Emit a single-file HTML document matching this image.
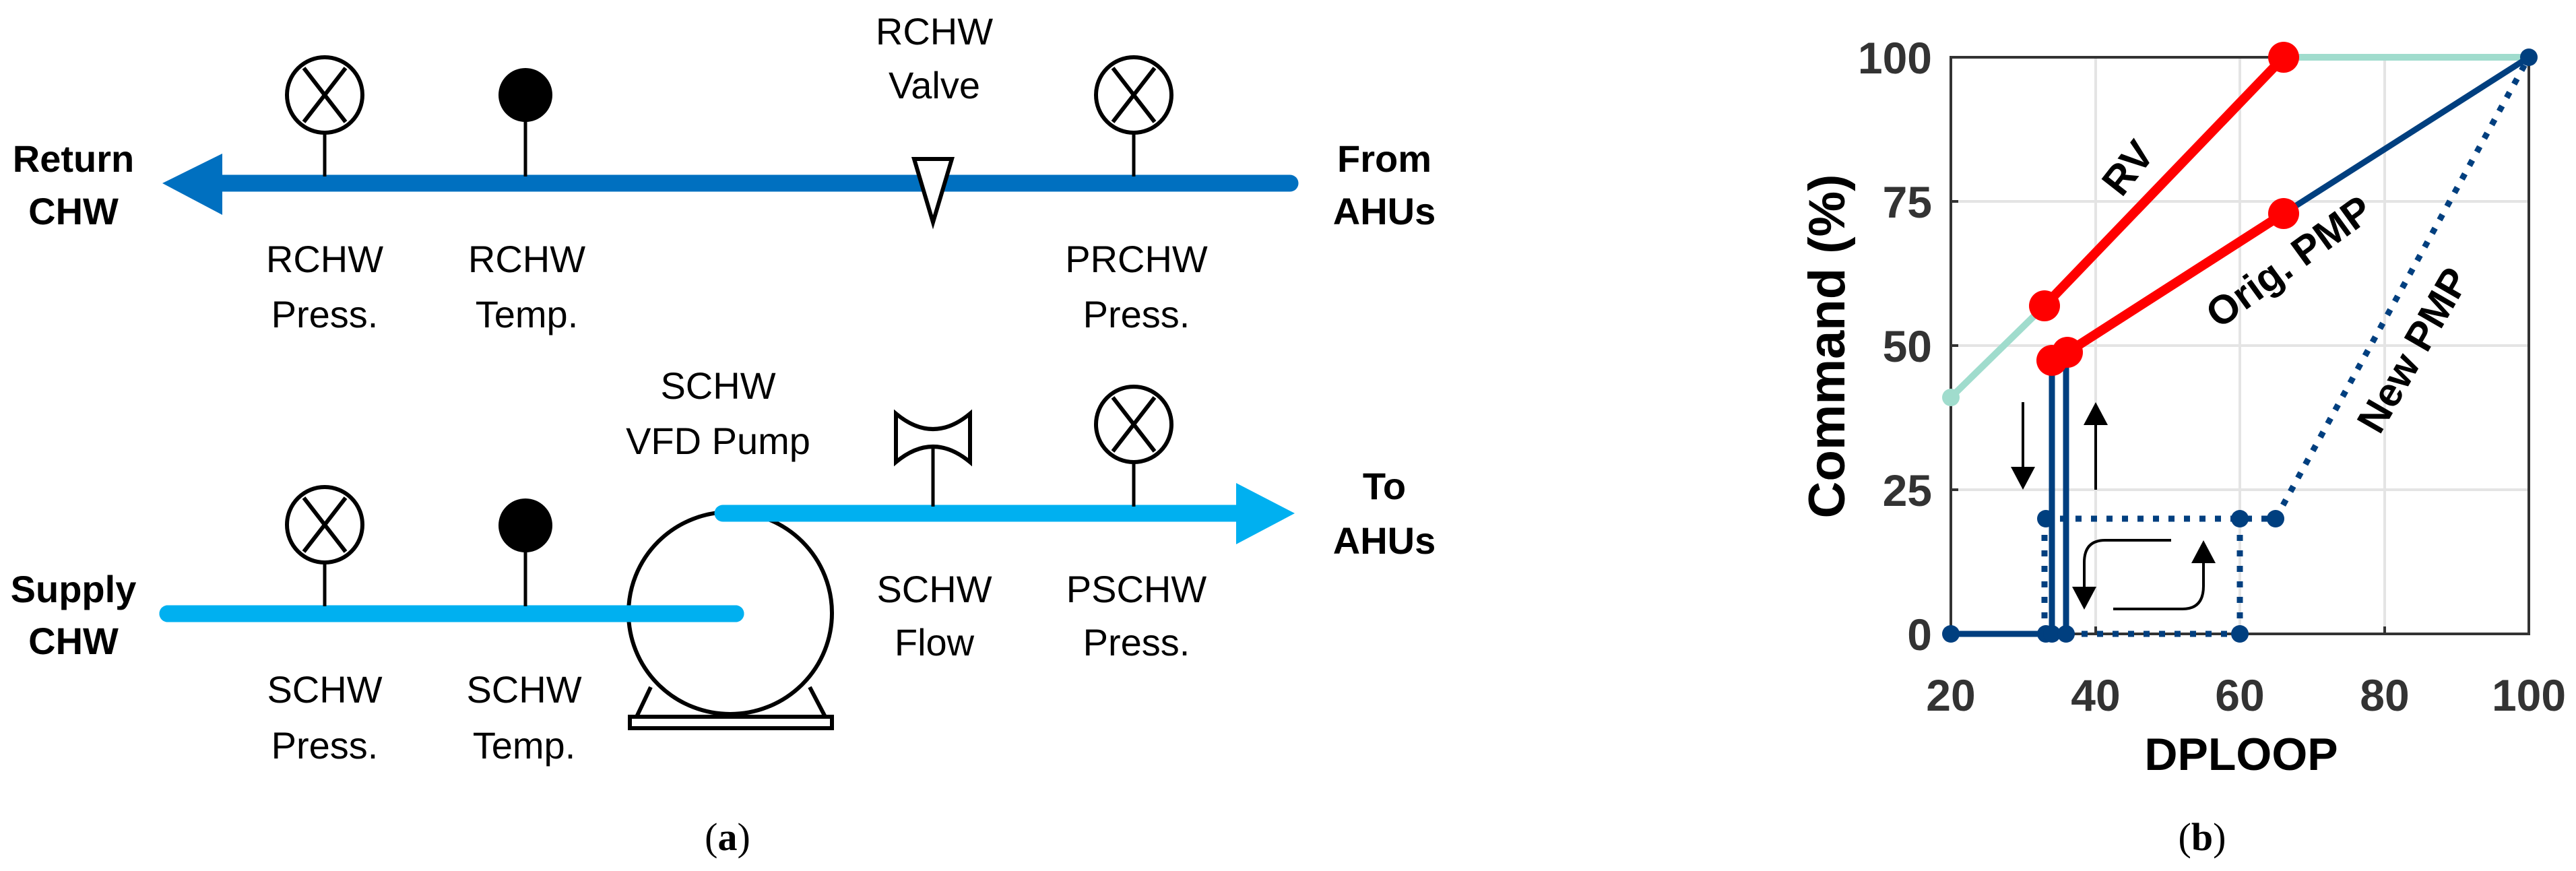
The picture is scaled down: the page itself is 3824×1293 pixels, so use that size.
<!DOCTYPE html>
<html><head><meta charset="utf-8"><style>html,body{margin:0;padding:0;background:#fff}svg{display:block}</style></head>
<body>
<svg width="3824" height="1293" viewBox="0 0 3824 1293" xmlns="http://www.w3.org/2000/svg">
<g font-family="Liberation Sans, sans-serif" font-size="56" fill="#000" text-anchor="middle">
<line x1="300" y1="272" x2="1915" y2="272" stroke="#0070c0" stroke-width="25" stroke-linecap="round"/>
<polygon points="241,272 330,228 330,319" fill="#0070c0"/>
<text x="109" y="255" font-weight="bold">Return</text>
<text x="109" y="333" font-weight="bold">CHW</text>
<text x="2055" y="255" font-weight="bold">From</text>
<text x="2055" y="333" font-weight="bold">AHUs</text>
<line x1="482" y1="196" x2="482" y2="262" stroke="#000" stroke-width="5"/>
<circle cx="482" cy="141" r="56" fill="#fff" stroke="#000" stroke-width="6"/>
<line x1="451" y1="101" x2="513" y2="181" stroke="#000" stroke-width="6"/>
<line x1="513" y1="101" x2="451" y2="181" stroke="#000" stroke-width="6"/>
<line x1="780" y1="170" x2="780" y2="262" stroke="#000" stroke-width="5"/>
<ellipse cx="780" cy="141" rx="40" ry="40" fill="#000"/>
<polygon points="1357,236 1413,236 1385,330" fill="#fff" stroke="#000" stroke-width="6"/>
<text x="1387" y="66">RCHW</text>
<text x="1387" y="146">Valve</text>
<line x1="1683" y1="196" x2="1683" y2="262" stroke="#000" stroke-width="5"/>
<circle cx="1683" cy="141" r="56" fill="#fff" stroke="#000" stroke-width="6"/>
<line x1="1652" y1="101" x2="1714" y2="181" stroke="#000" stroke-width="6"/>
<line x1="1714" y1="101" x2="1652" y2="181" stroke="#000" stroke-width="6"/>
<text x="482" y="404">RCHW</text><text x="482" y="486">Press.</text>
<text x="782" y="404">RCHW</text><text x="782" y="486">Temp.</text>
<text x="1687" y="404">PRCHW</text><text x="1687" y="486">Press.</text>

<line x1="249" y1="911" x2="1092" y2="911" stroke="#00b0f0" stroke-width="25" stroke-linecap="round"/>
<line x1="966" y1="1020" x2="945" y2="1064" stroke="#000" stroke-width="6"/>
<line x1="1202" y1="1020" x2="1225" y2="1064" stroke="#000" stroke-width="6"/>
<rect x="935" y="1064" width="300" height="17" fill="#fff" stroke="#000" stroke-width="6"/>
<ellipse cx="1084" cy="910" rx="151" ry="150" fill="none" stroke="#000" stroke-width="6"/>
<line x1="249" y1="911" x2="1092" y2="911" stroke="#00b0f0" stroke-width="25" stroke-linecap="round"/>
<line x1="1073" y1="762" x2="1845" y2="762" stroke="#00b0f0" stroke-width="25" stroke-linecap="round"/>
<polygon points="1922,762 1835,717 1835,808" fill="#00b0f0"/>
<text x="1066" y="592">SCHW</text>
<text x="1066" y="674">VFD Pump</text>
<line x1="482" y1="835" x2="482" y2="900" stroke="#000" stroke-width="5"/>
<circle cx="482" cy="779" r="56" fill="#fff" stroke="#000" stroke-width="6"/>
<line x1="451" y1="739" x2="513" y2="819" stroke="#000" stroke-width="6"/>
<line x1="513" y1="739" x2="451" y2="819" stroke="#000" stroke-width="6"/>
<line x1="780" y1="810" x2="780" y2="900" stroke="#000" stroke-width="5"/>
<ellipse cx="780" cy="780" rx="40" ry="40" fill="#000"/>
<line x1="1385" y1="660" x2="1385" y2="752" stroke="#000" stroke-width="5"/>
<path d="M1330,614 L1330,686 Q1385,640 1440,686 L1440,614 Q1385,660 1330,614 Z" fill="#fff" stroke="#000" stroke-width="6"/>
<line x1="1683" y1="685" x2="1683" y2="752" stroke="#000" stroke-width="5"/>
<circle cx="1683" cy="630" r="56" fill="#fff" stroke="#000" stroke-width="6"/>
<line x1="1652" y1="590" x2="1714" y2="670" stroke="#000" stroke-width="6"/>
<line x1="1714" y1="590" x2="1652" y2="670" stroke="#000" stroke-width="6"/>
<text x="2055" y="741" font-weight="bold">To</text>
<text x="2055" y="822" font-weight="bold">AHUs</text>
<text x="109" y="894" font-weight="bold">Supply</text>
<text x="109" y="971" font-weight="bold">CHW</text>
<text x="1387" y="894">SCHW</text><text x="1387" y="973">Flow</text>
<text x="1687" y="894">PSCHW</text><text x="1687" y="973">Press.</text>
<text x="482" y="1043">SCHW</text><text x="482" y="1126">Press.</text>
<text x="778" y="1043">SCHW</text><text x="778" y="1126">Temp.</text>
<text x="1080" y="1262" font-family="Liberation Serif, serif" font-size="58">(<tspan font-weight="bold">a</tspan>)</text>
</g>

<g font-family="Liberation Sans, sans-serif" font-weight="bold">
<g stroke="#e4e4e4" stroke-width="4">
<line x1="3111" y1="85" x2="3111" y2="941"/><line x1="3325" y1="85" x2="3325" y2="941"/><line x1="3540" y1="85" x2="3540" y2="941"/>
<line x1="2896" y1="727" x2="3754" y2="727"/><line x1="2896" y1="513" x2="3754" y2="513"/><line x1="2896" y1="299" x2="3754" y2="299"/>
</g>
<rect x="2896" y="85" width="858" height="856" fill="none" stroke="#333" stroke-width="4"/>
<g stroke="#333" stroke-width="4">
<line x1="3111" y1="941" x2="3111" y2="930"/><line x1="3325" y1="941" x2="3325" y2="930"/><line x1="3540" y1="941" x2="3540" y2="930"/>
<line x1="2896" y1="727" x2="2907" y2="727"/><line x1="2896" y1="513" x2="2907" y2="513"/><line x1="2896" y1="299" x2="2907" y2="299"/>
</g>
<g font-size="66" fill="#333" text-anchor="end">
<text x="2868" y="965">0</text><text x="2868" y="751">25</text><text x="2868" y="537">50</text><text x="2868" y="323">75</text><text x="2868" y="109">100</text>
</g>
<g font-size="66" fill="#333" text-anchor="middle">
<text x="2896" y="1055">20</text><text x="3111" y="1055">40</text><text x="3325" y="1055">60</text><text x="3540" y="1055">80</text><text x="3754" y="1055">100</text>
</g>
<text x="3327" y="1143" font-size="68" text-anchor="middle" fill="#000">DPLOOP</text>
<text transform="translate(2738,514) rotate(-90)" font-size="76" text-anchor="middle" fill="#000">Command (%)</text>

<polyline points="2896,590 3035,454" fill="none" stroke="#a0dccd" stroke-width="10"/>
<line x1="3390" y1="85" x2="3754" y2="85" stroke="#a0dccd" stroke-width="10"/>
<circle cx="2896" cy="590" r="13" fill="#a0dccd"/>
<polyline points="3390,317 3754,85" fill="none" stroke="#003f7f" stroke-width="9"/>
<line x1="2896" y1="941" x2="3067" y2="941" stroke="#003f7f" stroke-width="9"/>
<line x1="3046" y1="941" x2="3046" y2="535" stroke="#003f7f" stroke-width="9"/>
<line x1="3067" y1="941" x2="3067" y2="523" stroke="#003f7f" stroke-width="9"/>
<g fill="none" stroke="#003f7f" stroke-width="9" stroke-dasharray="9,14">
<line x1="3035" y1="770" x2="3378" y2="770"/>
<line x1="3035" y1="941" x2="3035" y2="770"/>
<line x1="3325" y1="941" x2="3325" y2="770"/>
<line x1="3067" y1="941" x2="3325" y2="941"/>
<line x1="3378" y1="770" x2="3754" y2="85"/>
</g>
<g fill="#003f7f">
<circle cx="2896" cy="941" r="13"/><circle cx="3037" cy="941" r="13"/><circle cx="3046" cy="941" r="13"/><circle cx="3067" cy="941" r="13"/><circle cx="3325" cy="941" r="13"/>
<circle cx="3037" cy="770" r="13"/><circle cx="3325" cy="770" r="13"/><circle cx="3378" cy="770" r="13"/><circle cx="3754" cy="85" r="13"/>
</g>
<polyline points="3035,454 3390,85" fill="none" stroke="#ff0000" stroke-width="14"/>
<polyline points="3046,535 3069,523 3390,317" fill="none" stroke="#ff0000" stroke-width="14"/>
<g fill="#ff0000">
<circle cx="3035" cy="454" r="23"/><circle cx="3390" cy="85" r="23"/><circle cx="3390" cy="317" r="23"/>
<circle cx="3046" cy="535" r="23"/><circle cx="3069" cy="523" r="23"/>
</g>
<g stroke="#000" stroke-width="4" fill="none">
<line x1="3003" y1="597" x2="3003" y2="700"/>
<line x1="3111" y1="727" x2="3111" y2="625"/>
<path d="M3223,802 L3125,802 Q3094,802 3094,835 L3094,880"/>
<path d="M3137,904 L3240,904 Q3271,904 3271,870 L3271,830"/>
</g>
<g fill="#000">
<polygon points="2985,693 3021,693 3003,727"/>
<polygon points="3093,631 3129,631 3111,597"/>
<polygon points="3076,871 3112,871 3094,905"/>
<polygon points="3253,836 3289,836 3271,802"/>
</g>
<g font-size="60" fill="#000" text-anchor="middle">
<text transform="translate(3175,262) rotate(-52)">RV</text>
<text transform="translate(3410,405) rotate(-36)">Orig. PMP</text>
<text transform="translate(3600,530) rotate(-60)">New PMP</text>
</g>
<text x="3269" y="1262" font-family="Liberation Serif, serif" font-size="58" font-weight="normal" text-anchor="middle">(<tspan font-weight="bold">b</tspan>)</text>
</g>
</svg>
</body></html>
